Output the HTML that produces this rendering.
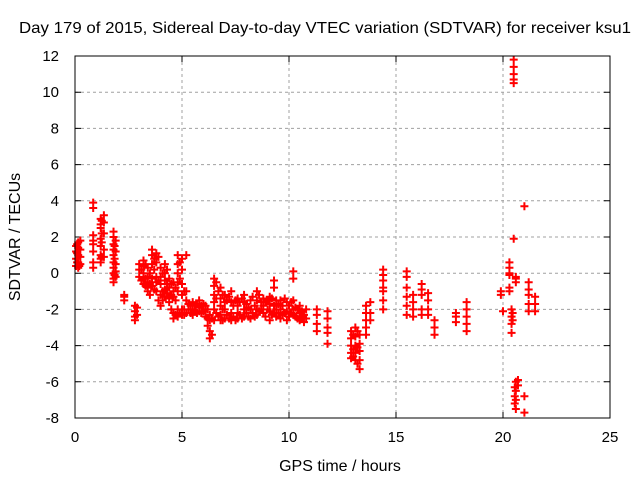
<!DOCTYPE html>
<html><head><meta charset="utf-8"><style>
body{margin:0;background:#fff;width:640px;height:480px;overflow:hidden}
svg text{font-family:"Liberation Sans",sans-serif;font-size:15px;fill:#000}
svg text.big{font-size:16px}
</style></head><body>
<svg id="chart" width="640" height="480" viewBox="0 0 640 480">
<text class="big" x="325" y="33" text-anchor="middle" textLength="612" lengthAdjust="spacingAndGlyphs">Day 179 of 2015, Sidereal Day-to-day VTEC variation (SDTVAR) for receiver ksu1</text>
<text class="big" x="340" y="471" text-anchor="middle">GPS time / hours</text>
<text class="big" x="20" y="237" text-anchor="middle" transform="rotate(-90 20 237)">SDTVAR / TECUs</text>
<g id="grid"></g>
<g id="marks"></g>
<rect x="75" y="56" width="535" height="362" fill="none" stroke="#000" stroke-width="1"/>
</svg>
<script>
const xTicks=[0,5,10,15,20,25];
const yTicks=[-8,-6,-4,-2,0,2,4,6,8,10,12];
const times=[0.05,0.05,0.05,0.05,0.15,0.15,0.15,0.15,0.15,0.25,0.25,0.25,0.25,
0.85,0.85,0.85,0.85,0.85,0.85,0.85,0.85,
1.2,1.2,1.2,1.2,1.2,1.2,1.2,1.2,
1.35,1.35,1.35,1.35,1.35,
1.8,1.8,1.8,1.8,1.8,1.8,1.8,1.8,1.8,1.8,
1.9,1.9,1.9,1.9,1.9,
2.3,2.3,2.3,2.8,2.8,2.8,2.8,2.9,2.9,
3.0,3.0,3.0,3.2,3.2,3.2,3.2,3.2,3.4,3.4,3.4,3.4,3.4,
3.6,3.6,3.6,3.6,3.6,3.8,3.8,3.8,3.8,3.8,
4.0,4.0,4.0,4.0,4.0,4.2,4.2,4.2,4.2,4.2,
4.4,4.4,4.4,4.4,4.6,4.6,4.6,4.6,4.6,
4.8,4.8,4.8,4.8,4.8,4.8,4.8,5.0,5.0,5.0,5.0,5.0,5.0,
5.2,5.2,5.2,5.2,5.5,5.5,5.5,5.8,5.8,5.8,6.1,6.1,6.1,
6.3,6.3,6.3,6.3,6.5,6.5,6.5,6.5,6.5,6.5,
6.8,6.8,6.8,6.8,6.8,7.0,7.0,7.0,7.0,7.3,7.3,7.3,7.3,
7.6,7.6,7.6,7.6,7.9,7.9,7.9,7.9,8.2,8.2,8.2,
8.5,8.5,8.5,8.5,8.8,8.8,8.8,9.1,9.1,9.1,9.1,
9.3,9.3,9.3,9.3,9.6,9.6,9.6,9.9,9.9,9.9,
10.2,10.2,10.2,10.2,10.2,10.5,10.5,10.5,10.8,10.8,
11.3,11.3,11.3,11.3,11.8,11.8,11.8,11.8,11.8,
12.9,12.9,12.9,12.9,12.9,13.1,13.1,13.1,13.1,13.1,13.3,13.3,13.3,13.3,13.3,
13.6,13.6,13.6,13.6,13.6,13.8,13.8,13.8,
14.4,14.4,14.4,14.4,14.4,14.4,14.4,
15.5,15.5,15.5,15.5,15.5,15.5,15.8,15.8,15.8,15.8,
16.2,16.2,16.2,16.2,16.2,16.5,16.5,16.5,16.5,16.8,16.8,16.8,
17.8,17.8,17.8,18.3,18.3,18.3,18.3,18.3,
19.9,19.9,20.0,20.3,20.3,20.3,20.3,20.3,20.3,20.4,20.4,20.4,20.4,
20.5,20.5,20.5,20.5,20.5,20.5,20.6,20.6,20.6,20.6,20.6,20.6,20.6,20.7,20.7,
21.0,21.0,21.0,21.2,21.2,21.2,21.2,21.2,21.5,21.5,21.5];
const vals=[0.4,0.8,1.2,1.5,0.3,0.6,1.0,1.4,1.7,0.5,0.9,1.3,1.8,
3.9,3.6,2.1,1.8,1.6,0.6,0.3,1.2,
3.0,2.7,2.5,1.9,1.5,1.0,0.8,0.6,
3.2,2.8,2.2,1.3,0.9,
2.3,2.0,1.6,1.3,1.0,0.6,0.3,0.0,-0.3,-0.5,
1.8,1.2,0.5,0.1,-0.2,
-1.2,-1.5,-1.3,-1.8,-2.1,-2.4,-2.6,-1.9,-2.3,
0.2,0.5,-0.2,0.7,0.4,0,-0.3,-0.6,0.3,-0.2,-0.5,-0.8,-1.0,
1.3,1.0,0.5,-0.3,-0.7,1.1,0.6,-0.2,-0.5,-1.0,
0.3,-0.2,-0.6,-1.2,-1.8,0.5,0,-0.4,-0.9,-1.3,
-0.3,-0.8,-1.4,-1.6,-0.5,-1.0,-1.3,-2.2,-2.5,
1.0,0.5,0,-0.5,-1.0,-2.0,-2.4,0.8,0.2,-0.6,-1.2,-2.0,-2.3,
1.0,-1.0,-1.5,-2.2,-1.6,-2.0,-2.3,-1.5,-1.9,-2.1,-1.8,-2.0,-2.4,
-2.3,-2.6,-3.2,-3.6,-0.3,-0.7,-1.2,-1.6,-2.0,-2.6,
-0.8,-1.4,-1.8,-2.3,-2.6,-1.2,-1.6,-2.0,-2.5,-1.0,-1.6,-2.2,-2.6,
-1.4,-1.8,-2.2,-2.5,-1.2,-1.6,-2.0,-2.4,-1.5,-2.0,-2.5,
-1.0,-1.5,-2.0,-2.3,-1.4,-1.8,-2.2,-1.3,-1.7,-2.1,-2.6,
-0.4,-0.8,-1.8,-2.2,-1.5,-2.0,-2.5,-1.6,-2.1,-2.6,
0.1,-0.3,-1.5,-2.0,-2.3,-1.8,-2.2,-2.6,-2.0,-2.5,
-2.0,-2.3,-2.8,-3.2,-2.1,-2.5,-3.0,-3.3,-3.9,
-3.2,-3.6,-4.0,-4.4,-4.7,-3.0,-3.5,-4.0,-4.4,-4.8,-3.4,-3.9,-4.3,-4.8,-5.3,
-1.8,-2.2,-2.6,-3.0,-3.4,-1.6,-2.2,-2.6,
-0.1,0.2,-0.4,-0.8,-1.0,-1.5,-2.0,
0.1,-0.2,-0.8,-1.3,-1.8,-2.3,-1.2,-1.6,-2.0,-2.4,
-0.6,-0.9,-1.2,-2.0,-2.3,-1.1,-1.5,-2.0,-2.3,-2.6,-3.0,-3.4,
-2.2,-2.4,-2.7,-1.6,-2.0,-2.4,-2.8,-3.2,
-1.0,-1.2,-2.1,0.6,0.3,0.0,-0.1,-1.0,-0.8,-2.0,-2.4,-2.8,-3.3,
11.8,11.4,11.0,10.7,10.5,1.9,-0.2,-0.3,-0.5,-6.0,-6.5,-7.0,-7.5,-5.9,-6.2,
3.7,-6.8,-7.7,-0.5,-0.9,-1.2,-1.7,-2.1,-1.3,-1.7,-2.1];
const extraTimes=[0.1,0.1,0.1,0.2,0.2,1.25,1.25,1.25,1.25,1.85,1.85,1.85,
3.1,3.1,3.3,3.3,3.3,3.5,3.5,3.5,3.7,3.7,3.7,3.9,3.9,3.9,4.1,4.1,4.1,4.3,4.3,4.3,
4.5,4.5,4.5,4.7,4.7,4.7,4.9,4.9,4.9,5.1,5.1,5.1,5.3,5.3,5.4,5.4,5.6,5.6,5.7,5.7,
5.9,5.9,6.0,6.0,6.2,6.2,6.2,6.4,6.4,6.6,6.6,6.6,6.7,6.7,6.9,6.9,6.9,7.1,7.1,7.2,7.2,
7.4,7.4,7.5,7.5,7.7,7.7,7.8,7.8,8.0,8.0,8.1,8.1,8.3,8.3,8.4,8.4,8.6,8.6,8.7,8.7,
8.9,8.9,9.0,9.0,9.2,9.2,9.4,9.4,9.4,9.5,9.5,9.7,9.7,9.8,9.8,10.0,10.0,10.1,10.1,
10.3,10.3,10.4,10.4,10.6,10.6,10.7,10.7,13.0,13.0,13.0,13.2,13.2,13.2,
20.55,20.55,20.55,20.45,20.45];
const extraVals=[0.6,1.1,1.6,0.4,1.3,2.9,2.2,1.7,0.9,1.5,0.8,-0.1,
0.2,-0.4,0.5,-0.3,-0.7,0.0,-0.6,-1.2,0.8,0.2,-0.9,0.9,-0.4,-1.5,0,-1.0,-1.5,0.2,-0.6,-1.1,
-0.6,-1.2,-2.0,-0.8,-1.5,-2.3,0.6,-0.3,-2.2,-1.0,-2.0,-2.3,-1.7,-2.0,-1.8,-2.2,-1.8,-2.1,-1.7,-2.2,
-1.8,-2.2,-1.7,-2.1,-2.0,-2.5,-2.9,-2.5,-3.4,-0.5,-1.4,-2.2,-1.0,-2.4,-1.2,-2.0,-2.6,-1.5,-2.3,-1.3,-2.5,
-1.8,-2.4,-1.5,-2.6,-1.6,-2.3,-1.4,-2.5,-1.7,-2.2,-1.9,-2.4,-1.3,-2.2,-1.8,-2.4,-1.2,-2.1,-1.6,-2.0,
-1.6,-2.4,-1.5,-2.0,-1.4,-2.3,-1.5,-2.0,-2.4,-1.7,-2.2,-1.8,-2.3,-1.4,-2.2,-1.8,-2.4,-1.6,-2.2,
-1.9,-2.4,-2.0,-2.5,-2.1,-2.4,-2.3,-2.7,-3.4,-4.2,-4.6,-3.2,-4.1,-5.0,
-6.3,-6.8,-7.2,-2.2,-2.6];
const NS='http://www.w3.org/2000/svg';
const X0=75,X1=610,Y0=418,Y1=56;
function sx(t){return X0+(t-0)/(25-0)*(X1-X0);}
function sy(v){return Y0-(v+8)/(12+8)*(Y0-Y1);}
const grid=document.getElementById('grid');
const svg=document.getElementById('chart');
xTicks.forEach(t=>{
  const x=sx(t);
  if(t>0&&t<25){const l=document.createElementNS(NS,'line');
  
  
  l.setAttribute('x1',x);l.setAttribute('x2',x);l.setAttribute('y1',Y1);l.setAttribute('y2',Y0);
  l.setAttribute('stroke','#a0a0a0');l.setAttribute('stroke-dasharray','3,3');grid.appendChild(l);}
  const tk=document.createElementNS(NS,'path');
  
  
  tk.setAttribute('d',`M${x},${Y0}v-6M${x},${Y1}v6`);tk.setAttribute('stroke','#000');grid.appendChild(tk);
  const tx=document.createElementNS(NS,'text');
  
  
  tx.setAttribute('x',x);tx.setAttribute('y',Y0+24);tx.setAttribute('text-anchor','middle');tx.textContent=t;svg.appendChild(tx);
});
yTicks.forEach(v=>{
  const y=sy(v);
  if(v>-8&&v<12){const l=document.createElementNS(NS,'line');
  
  
  l.setAttribute('x1',X0);l.setAttribute('x2',X1);l.setAttribute('y1',y);l.setAttribute('y2',y);
  l.setAttribute('stroke','#a0a0a0');l.setAttribute('stroke-dasharray','3,3');grid.appendChild(l);}
  const tk=document.createElementNS(NS,'path');
  
  
  tk.setAttribute('d',`M${X0},${y}h6M${X1},${y}h-6`);tk.setAttribute('stroke','#000');grid.appendChild(tk);
  const tx=document.createElementNS(NS,'text');
  
  
  tx.setAttribute('x',X0-16);tx.setAttribute('y',y+5);tx.setAttribute('text-anchor','end');tx.textContent=v;svg.appendChild(tx);
});
const marks=document.getElementById('marks');
const allT=times.concat(extraTimes), allV=vals.concat(extraVals);
let d='';
for(let i=0;i<allT.length;i++){
  const x=sx(allT[i]),y=sy(allV[i]);
  d+=`M${x-4},${y}h8M${x},${y-4}v8`;
}
const p=document.createElementNS(NS,'path');


p.setAttribute('d',d);p.setAttribute('stroke','#ff0000');p.setAttribute('stroke-width','2');p.setAttribute('fill','none');
marks.appendChild(p);
</script>
</body></html>
